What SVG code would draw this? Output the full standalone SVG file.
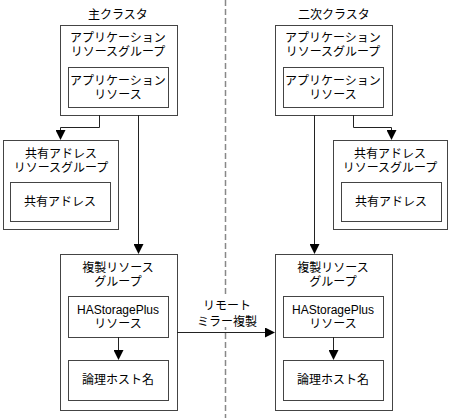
<svg xmlns="http://www.w3.org/2000/svg" width="451" height="418" viewBox="0 0 451 418">
<style>
text{font-family:"Liberation Sans","Noto Sans CJK JP",sans-serif;font-size:12px;fill:#000;text-anchor:middle}
.box{fill:#fff;stroke:#444;stroke-width:1}
.ln{fill:none;stroke:#222;stroke-width:1}
.div{stroke:#888;stroke-width:1.5;stroke-dasharray:6,3}
</style>
<defs>
<marker id="ah" markerWidth="10" markerHeight="10" refX="9" refY="5" orient="auto" markerUnits="userSpaceOnUse">
<path d="M0,0 L10,5 L0,10 Z" fill="#000"/>
</marker>
</defs>
<rect width="451" height="418" fill="#fff"/>
<line class="div" x1="225.5" y1="0" x2="225.5" y2="418"/>
<text x="118" y="19">主クラスタ</text>
<text x="334" y="19">二次クラスタ</text>
<g id="p-app-rg">
<rect class="box" x="60.5" y="25.5" width="117" height="90"/>
<text x="118" y="42">アプリケーション</text>
<text x="118" y="56">リソースグループ</text>
</g>
<g id="p-app-res">
<rect class="box" x="68.5" y="67.5" width="100" height="40"/>
<text x="118" y="85">アプリケーション</text>
<text x="118" y="99">リソース</text>
</g>
<g id="p-sa-rg">
<rect class="box" x="3.5" y="140.5" width="115" height="89"/>
<text x="61" y="158">共有アドレス</text>
<text x="61" y="172">リソースグループ</text>
</g>
<g id="p-sa">
<rect class="box" x="10.5" y="182.5" width="100" height="39"/>
<text x="60" y="206">共有アドレス</text>
</g>
<g id="p-rep-rg">
<rect class="box" x="60.5" y="254.5" width="117" height="156"/>
<text x="118" y="272">複製リソース</text>
<text x="118" y="286">グループ</text>
</g>
<g id="p-hasp">
<rect class="box" x="68.5" y="296.5" width="100" height="41"/>
<text x="118" y="314">HAStoragePlus</text>
<text x="118" y="328">リソース</text>
</g>
<g id="p-lh">
<rect class="box" x="68.5" y="360.5" width="100" height="40"/>
<text x="118" y="384">論理ホスト名</text>
</g>
<g id="s-app-rg">
<rect class="box" x="275.5" y="25.5" width="117" height="90"/>
<text x="333" y="42">アプリケーション</text>
<text x="333" y="56">リソースグループ</text>
</g>
<g id="s-app-res">
<rect class="box" x="283.5" y="67.5" width="100" height="40"/>
<text x="333" y="85">アプリケーション</text>
<text x="333" y="99">リソース</text>
</g>
<g id="s-sa-rg">
<rect class="box" x="333.5" y="140.5" width="114" height="89"/>
<text x="390" y="158">共有アドレス</text>
<text x="390" y="172">リソースグループ</text>
</g>
<g id="s-sa">
<rect class="box" x="341.5" y="182.5" width="100" height="39"/>
<text x="391" y="206">共有アドレス</text>
</g>
<g id="s-rep-rg">
<rect class="box" x="275.5" y="254.5" width="117" height="156"/>
<text x="333" y="272">複製リソース</text>
<text x="333" y="286">グループ</text>
</g>
<g id="s-hasp">
<rect class="box" x="283.5" y="296.5" width="100" height="41"/>
<text x="333" y="314">HAStoragePlus</text>
<text x="333" y="328">リソース</text>
</g>
<g id="s-lh">
<rect class="box" x="283.5" y="360.5" width="100" height="40"/>
<text x="333" y="384">論理ホスト名</text>
</g>
<g id="connectors">
<path class="ln" d="M99.5,115 V127.5 H60.5 V139" marker-end="url(#ah)"/>
<path class="ln" d="M138.5,115 V253" marker-end="url(#ah)"/>
<path class="ln" d="M118.5,337 V359" marker-end="url(#ah)"/>
<path class="ln" d="M353.5,115 V127.5 H391.5 V139" marker-end="url(#ah)"/>
<path class="ln" d="M314.5,115 V253" marker-end="url(#ah)"/>
<path class="ln" d="M333.5,337 V359" marker-end="url(#ah)"/>
<rect x="196" y="297" width="60" height="30" fill="#fff"/>
<path class="ln" d="M177,332.5 H274" marker-end="url(#ah)"/>
<text x="227" y="310">リモート</text>
<text x="227" y="326">ミラー複製</text>
</g>
</svg>
